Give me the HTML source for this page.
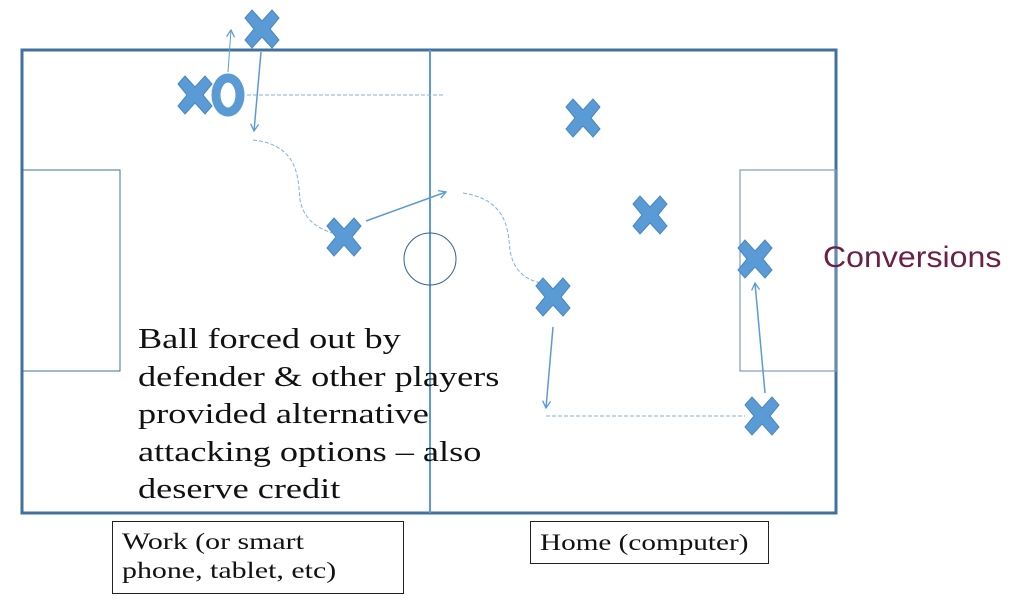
<!DOCTYPE html>
<html><head><meta charset="utf-8"><style>
body{margin:0;background:#fff;width:1024px;height:599px;overflow:hidden;position:relative}
.t{position:absolute;font-family:"Liberation Serif",serif;color:#111;transform-origin:0 0;white-space:nowrap}
</style></head><body>
<svg width="1024" height="599" style="position:absolute;left:0;top:0">
<defs>
<path id="x" d="M-17,-11 L-10,-19 L0,-8 L10,-19 L17,-11 L8,0 L17,11 L10,19 L0,8 L-10,19 L-17,11 L-8,0 Z" fill="#5b9bd5" stroke="#4a87c0" stroke-width="1"/>
<marker id="a" markerWidth="10" markerHeight="10" refX="8" refY="5" orient="auto" markerUnits="userSpaceOnUse"><path d="M1,1 L8,5 L1,9" fill="none" stroke="#5b9bd5" stroke-width="1.3"/></marker>
</defs>
<rect x="22" y="50" width="814" height="463" fill="none" stroke="#41719c" stroke-width="3"/>
<line x1="430" y1="50" x2="430" y2="513" stroke="#5b9bd5" stroke-width="2"/>
<rect x="22" y="170" width="98" height="201" fill="none" stroke="#41719c" stroke-width="1"/>
<rect x="740" y="170" width="96" height="201" fill="none" stroke="#7f9db9" stroke-width="1.2"/>
<ellipse cx="430" cy="259" rx="26" ry="26" fill="none" stroke="#34628c" stroke-width="1"/>
<g stroke="#5b9bd5" fill="none" stroke-width="1.5">
<line x1="228" y1="72" x2="231" y2="30" marker-end="url(#a)" stroke-width="1"/>
<line x1="261" y1="52" x2="254" y2="131" marker-end="url(#a)"/>
<line x1="366" y1="221" x2="446" y2="192" marker-end="url(#a)"/>
<line x1="553" y1="327" x2="546" y2="408" marker-end="url(#a)"/>
<line x1="765" y1="393" x2="755" y2="283" marker-end="url(#a)"/>
</g>
<g stroke="#7fb1e0" fill="none" stroke-width="1" stroke-dasharray="4,2">
<line x1="247" y1="95" x2="445" y2="95"/>
<path d="M253,140 C300,145 298,180 300,200 C305,225 325,230 332,233"/>
<path d="M463,193 C510,200 508,235 510,250 C514,275 530,280 540,283"/>
<line x1="546" y1="416" x2="745" y2="416"/>
</g>
<use href="#x" x="262" y="29"/>
<use href="#x" x="195" y="95"/>
<ellipse cx="228" cy="95" rx="12" ry="17" fill="none" stroke="#5b9bd5" stroke-width="9"/>
<use href="#x" x="344" y="237"/>
<use href="#x" x="583" y="118"/>
<use href="#x" x="650" y="215"/>
<use href="#x" x="755" y="259"/>
<use href="#x" x="553" y="297"/>
<use href="#x" x="762" y="416"/>
<rect x="112.5" y="521.5" width="291" height="72" fill="none" stroke="#222" stroke-width="1"/>
<rect x="530.5" y="521.5" width="238" height="42" fill="none" stroke="#222" stroke-width="1"/>
</svg>
<div class="t" style="left:138px;top:321px;font-size:29px;line-height:37.5px;transform:scaleX(1.25)">Ball forced out by<br>defender &amp; other players<br>provided alternative<br>attacking options – also<br>deserve credit</div>
<div class="t" style="left:122px;top:527px;font-size:23px;line-height:29px;transform:scaleX(1.3)">Work (or smart<br>phone, tablet, etc)</div>
<div class="t" style="left:540px;top:528px;font-size:23px;line-height:29px;transform:scaleX(1.27)">Home (computer)</div>
<div style="position:absolute;left:823px;top:241px;font-family:'Liberation Sans',sans-serif;font-size:30px;color:#6b2048;white-space:nowrap;transform-origin:0 0;transform:scaleX(1.07)">Conversions</div>
</body></html>
